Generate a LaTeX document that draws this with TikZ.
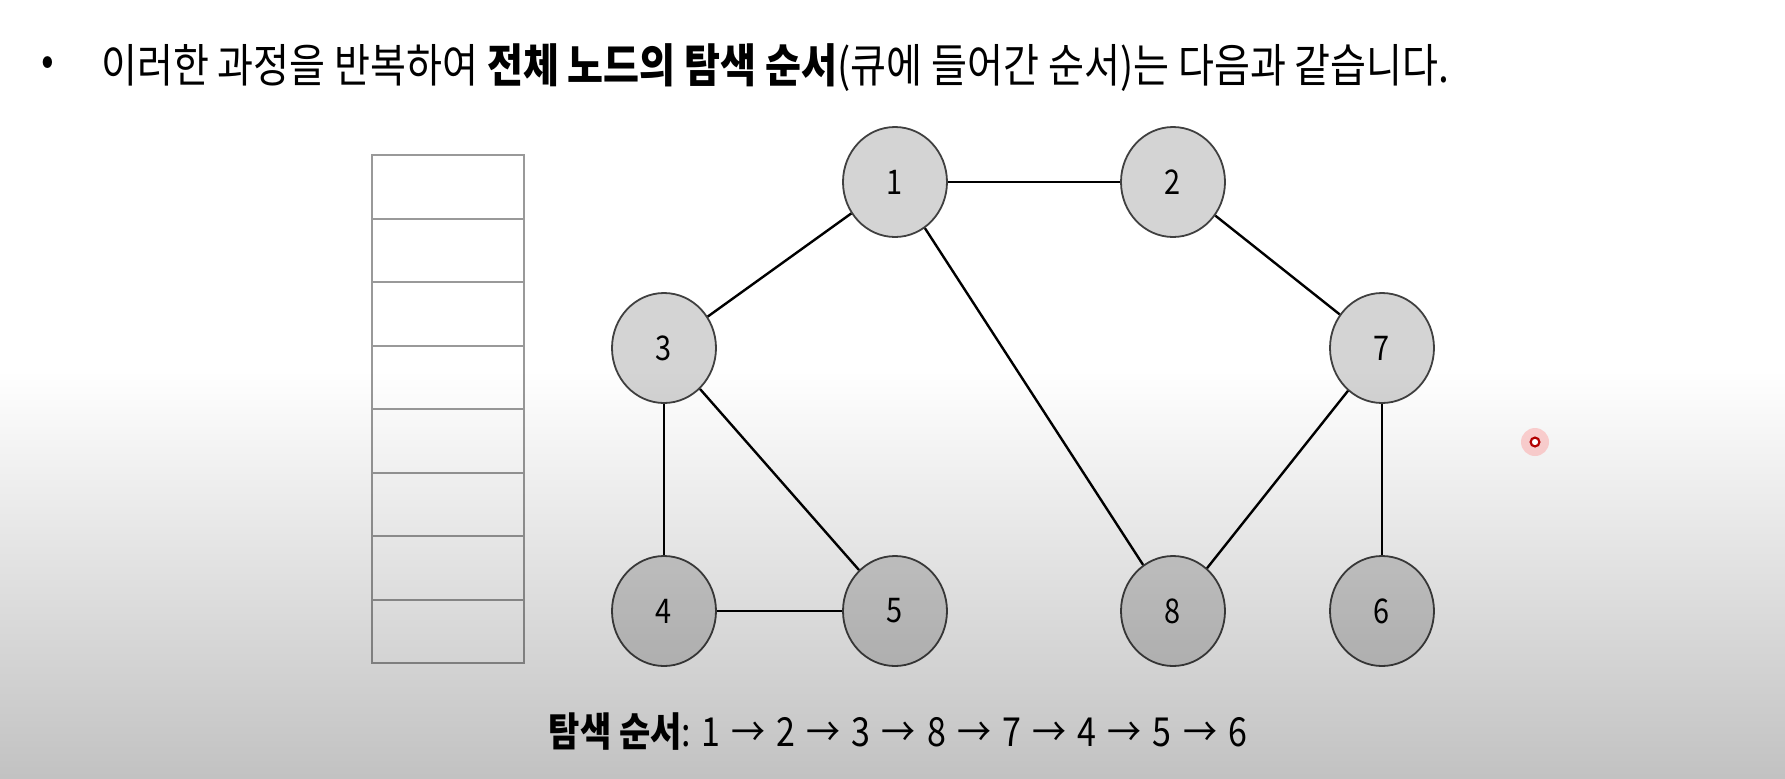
\documentclass[tikz,border=0pt]{standalone}
\usepackage{fontspec}
\setmainfont{Noto Sans CJK KR}[FakeStretch=0.85]
\usetikzlibrary{shapes.geometric}

\tikzset{
  vrchol/.style={ellipse, draw=black!75, line width=0.9pt, fill=black!17,
    minimum width=52pt, minimum height=55pt, inner sep=0pt,
    font=\fontsize{17}{17}\selectfont},
  hrana/.style={line width=1.2pt},
  fronta/.style={draw=black!40, line width=1pt}
}
\newcommand\dal{\hspace{0.28em}→\hspace{0.28em}}

\begin{document}
\begin{tikzpicture}[x=0.5pt, y=-0.5pt]
\useasboundingbox (0,0) rectangle (1785,778);
% nadpis
\node[font=\fontsize{22}{22}\selectfont] (tecka) at (48,66) {•};
\node[anchor=west, font=\fontsize{23}{23}\selectfont] (titul) at (94,68)
  {이러한 과정을 반복하여 \textbf{전체 노드의 탐색 순서}(큐에 들어간 순서)는 다음과 같습니다.};
% fronta: 8 prazdnych policek
\draw[fronta] (372,155) rectangle (524,663);
\foreach \i in {1,...,7}
  {\draw[fronta] (372,{155+63.5*\i}) -- (524,{155+63.5*\i});}
% graf
\foreach \n/\x/\y in {1/895/182, 2/1173/182, 3/664/348, 7/1382/348,
                      4/664/611, 5/895/611, 8/1173/611, 6/1382/611}
  {\node[vrchol] (n\n) at (\x,\y) {\n};}
\foreach \a/\b in {1/2, 1/3, 1/8, 2/7, 3/4, 3/5, 4/5, 7/8, 7/6}
  {\draw[hrana] (n\a) -- (n\b);}
\node[font=\fontsize{20}{20}\selectfont] (poradi) at (898,732)
  {\textbf{탐색 순서}: 1\dal 2\dal 3\dal 8\dal 7\dal 4\dal 5\dal 6};
% stin dole a ukazovatko
\shade[top color=white, bottom color=black!24, blend mode=multiply]
  (0,370) rectangle (1785,778);
\fill[red!50, opacity=0.35] (1535,442) circle (7pt);
\draw[red!70!black, line width=1.1pt, fill=white] (1535,442) circle (2.2pt);
\end{tikzpicture}
\end{document}
